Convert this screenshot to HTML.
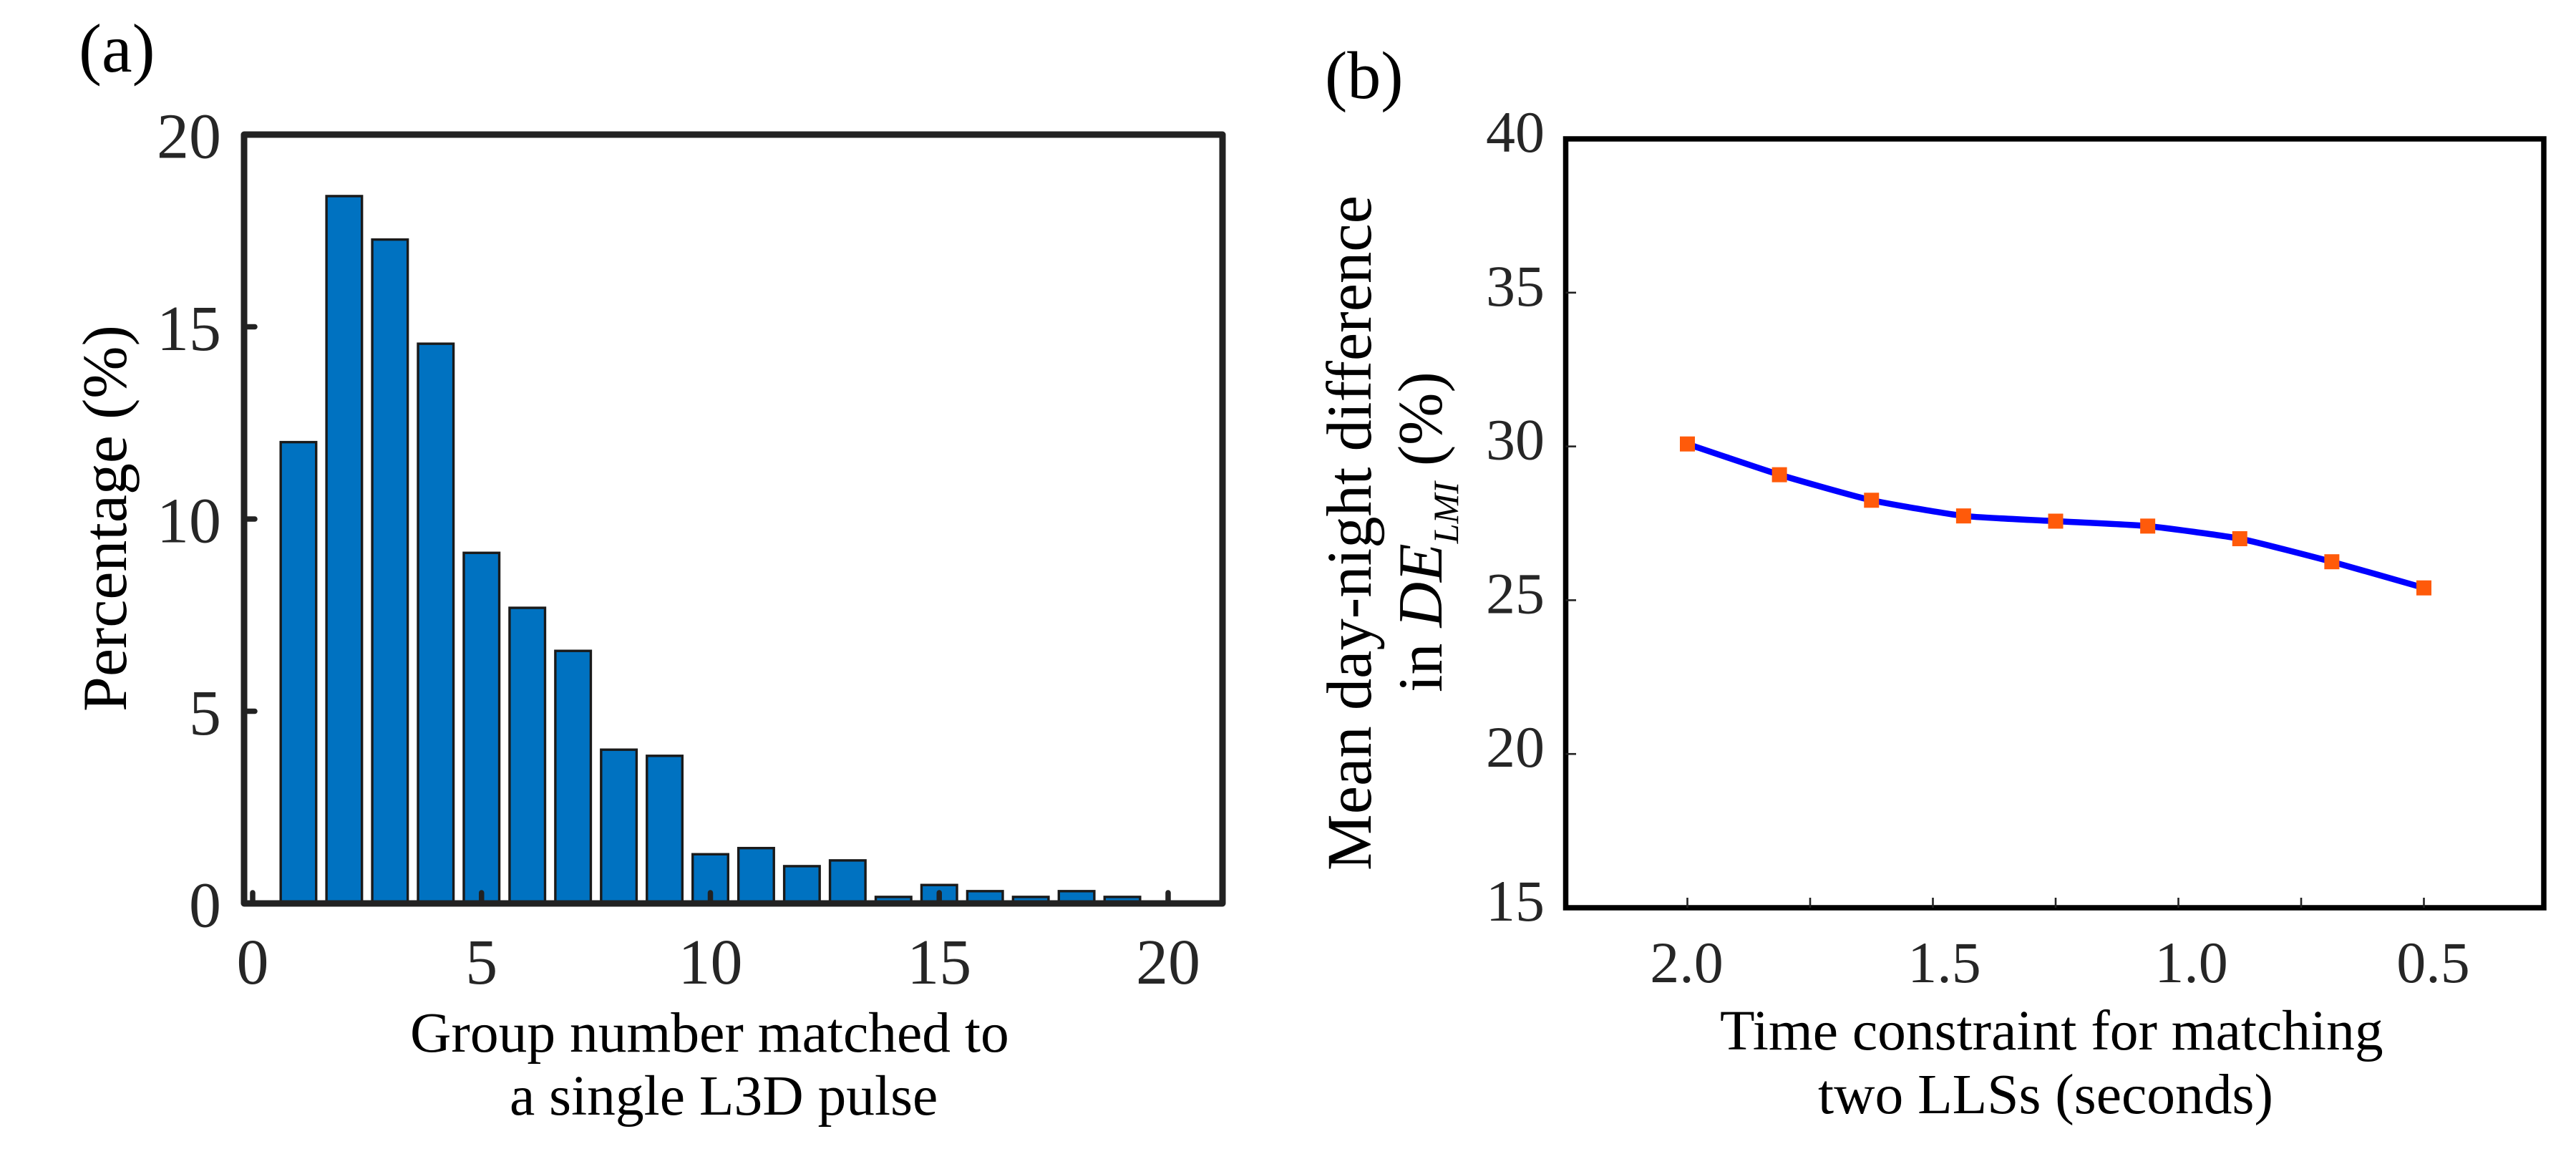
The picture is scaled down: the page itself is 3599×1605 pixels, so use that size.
<!DOCTYPE html>
<html lang="en">
<head>
<meta charset="utf-8">
<title>L3D pulse group matching and day-night difference</title>
<style>
html,body{margin:0;padding:0;background:#fff;width:3599px;height:1605px;overflow:hidden}
svg{display:block}
text{font-family:"Liberation Serif",serif}
</style>
</head>
<body>
<svg id="figure" xmlns="http://www.w3.org/2000/svg" width="3599" height="1605" viewBox="0 0 3599 1605">
  <rect x="0" y="0" width="3599" height="1605" fill="#fff"/>
  <g id="panel-a"></g>
  <g id="panel-b"></g>

  <text x="110" y="100" font-size="96" fill="#000">(a)</text>
  <text transform="translate(176 994) rotate(-90)" font-size="88" fill="#000">Percentage (%)</text>
  <text x="573" y="1469" font-size="79.5" fill="#000">Group number matched to</text>
  <text x="712" y="1557" font-size="79.5" fill="#000">a single L3D pulse</text>

  <text x="1851" y="137" font-size="94" fill="#000">(b)</text>
  <text transform="translate(1915 1216) rotate(-90)" font-size="88.6" fill="#000">Mean day-night difference</text>
  <text transform="translate(2014 967) rotate(-90)" font-size="88" fill="#000">in <tspan font-style="italic">DE</tspan><tspan font-style="italic" font-size="50" dy="23">LMI</tspan><tspan dy="-23"> (%)</tspan></text>
  <text x="2403" y="1466" font-size="79.5" fill="#000">Time constraint for matching</text>
  <text x="2540" y="1555" font-size="79.5" fill="#000">two LLSs (seconds)</text>
</svg>
<script>
// Panel (a) data
const groupNumbers = [1,2,3,4,5,6,7,8,9,10,11,12,13,14,15,16,17,18,19];
const groupPercentages = [12.0,18.4,17.27,14.56,9.12,7.69,6.57,4.0,3.84,1.28,1.44,0.97,1.12,0.17,0.48,0.32,0.17,0.32,0.17];
const panelAXTicks = [0,5,10,15,20];
const panelAYTicks = [0,5,10,15,20];

// Panel (b) data
const timeConstraints = [2.0,1.8125,1.625,1.4375,1.25,1.0625,0.875,0.6875,0.5];
const dayNightDifference = [30.08,29.08,28.25,27.74,27.57,27.41,27.0,26.25,25.4];
const panelBXTicks = [2.0,1.75,1.5,1.25,1.0,0.75,0.5];
const panelBXLabels = ["2.0","1.5","1.0","0.5"];
const panelBYTicks = [15,20,25,30,35,40];

const SVG_NS = "http://www.w3.org/2000/svg";
function make(parent, tag, attrs, content) {
  const el = document.createElementNS(SVG_NS, tag);
  for (const k in attrs) el.setAttribute(k, attrs[k]);
  if (content !== undefined) el.textContent = content;
  parent.appendChild(el);
  return el;
}

// Axis functions
const xA = v => 353 + v * 63.95;
const yA = v => 1262 - v * 53.7;
const xB = t => 2357.5 + (2 - t) * 686;
const yB = v => 1268 - (v - 15) * 42.96;

const panelA = document.getElementById("panel-a");
const panelB = document.getElementById("panel-b");

/* ---------- Panel (a) ---------- */
groupNumbers.forEach((g, i) => {
  const w = 0.775 * 63.95;
  const bar = make(panelA, "rect", {
    x: xA(g) - w / 2, y: yA(groupPercentages[i]), width: w,
    height: yA(0) - yA(groupPercentages[i]),
    fill: "#0072C1", stroke: "#1a1a1a", "stroke-width": 3.4
  });
  
  
});

const frameA = make(panelA, "rect", {
  x: 341, y: 188, width: 1367, height: 1074,
  fill: "none", stroke: "#222", "stroke-width": 9, "stroke-linejoin": "round"
});



panelAXTicks.forEach(v => {
  const tick = make(panelA, "line", {
    x1: xA(v), x2: xA(v), y1: yA(0), y2: yA(0) - 15,
    stroke: "#222", "stroke-width": 7.5, "stroke-linecap": "round"
  });
  
  
  const label = make(panelA, "text", {
    x: xA(v), y: 1374, "font-size": 90, "text-anchor": "middle", fill: "#262626"
  }, String(v));
  
  
});

panelAYTicks.forEach(v => {
  if (v !== 0 && v !== 20) {
    const tick = make(panelA, "line", {
      x1: 341, x2: 356, y1: yA(v), y2: yA(v),
      stroke: "#222", "stroke-width": 7.5, "stroke-linecap": "round"
    });
    
    
  }
  const label = make(panelA, "text", {
    x: 309, y: yA(v) + 32.5, "font-size": 90, "text-anchor": "end", fill: "#262626"
  }, String(v));
  
  
});

/* ---------- Panel (b) ---------- */
const frameB = make(panelB, "rect", {
  x: 2187.5, y: 194, width: 1366.5, height: 1074,
  fill: "none", stroke: "#000", "stroke-width": 7.5
});



panelBXTicks.forEach(t => {
  const tick = make(panelB, "line", {
    x1: xB(t), x2: xB(t), y1: yB(15), y2: yB(15) - 14,
    stroke: "#222", "stroke-width": 2.6
  });
  
  
});

panelBXLabels.forEach(s => {
  const t = Number(s);
  // printed labels sit slightly off their ticks in the source figure
  const nudge = t === 2 ? -1 : t === 1.5 ? 16 : t === 1 ? 18 : 13;
  const label = make(panelB, "text", {
    x: xB(t) + nudge, y: 1372, "font-size": 82, "text-anchor": "middle", fill: "#262626"
  }, s);
  
  
});

panelBYTicks.forEach(v => {
  if (v !== 15 && v !== 40) {
    const tick = make(panelB, "line", {
      x1: 2187.5, x2: 2202, y1: yB(v), y2: yB(v),
      stroke: "#222", "stroke-width": 2.6
    });
    
    
  }
  const label = make(panelB, "text", {
    x: 2158, y: yB(v) + 18, "font-size": 82, "text-anchor": "end", fill: "#262626"
  }, String(v));
  
  
});

// Lightly smoothed line through the data points
const pts = timeConstraints.map((t, i) => [xB(t), yB(dayNightDifference[i])]);
let d = "M" + pts[0][0] + " " + pts[0][1];
for (let i = 0; i < pts.length - 1; i++) {
  const p0 = pts[Math.max(i - 1, 0)], p1 = pts[i], p2 = pts[i + 1], p3 = pts[Math.min(i + 2, pts.length - 1)];
  const c1x = p1[0] + (p2[0] - p0[0]) / 12, c1y = p1[1] + (p2[1] - p0[1]) / 12;
  const c2x = p2[0] - (p3[0] - p1[0]) / 12, c2y = p2[1] - (p3[1] - p1[1]) / 12;
  d += " C" + c1x + " " + c1y + " " + c2x + " " + c2y + " " + p2[0] + " " + p2[1];
}
const line = make(panelB, "path", { d: d, fill: "none", stroke: "#0000FF", "stroke-width": 8.5 });



timeConstraints.forEach((t, i) => {
  const s = 21;
  const point = make(panelB, "rect", {
    x: xB(t) - s / 2, y: yB(dayNightDifference[i]) - s / 2, width: s, height: s, fill: "#FF5A0A"
  });
  
  
});
</script>
</body>
</html>
